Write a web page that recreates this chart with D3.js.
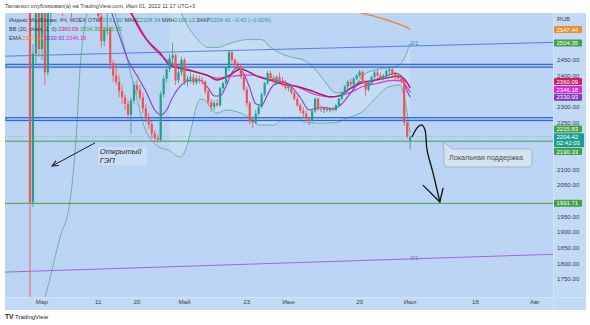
<!DOCTYPE html>
<html><head><meta charset="utf-8">
<script src="https://cdn.jsdelivr.net/npm/d3@7"></script>
<style>
body{margin:0;background:#fff;}
svg{display:block;font-family:"Liberation Sans",Arial,sans-serif;}
</style>
</head><body>
<svg id="chart" width="590" height="325"></svg>
<script>
// ---- IMOEX, 4h candles (bar 0 = 24 Feb 2022, last bar = 1 Jul 2022) ----
const opens  = [2900,1995,2470,2620,2485,2650,2410,2630,2680,2700,2720,2700,2640,2690,2680,2620,2670,2710,2740,2720,2700,2680,2660,2640,2590,2510,2545,2550,2440,2400,2380,2350,2330,2310,2275,2320,2370,2355,2330,2295,2265,2245,2215,2200,2195,2340,2390,2420,2455,2465,2385,2410,2450,2380,2390,2395,2378,2390,2385,2380,2350,2316,2300,2312,2305,2360,2376,2424,2475,2450,2434,2430,2396,2356,2312,2255,2250,2278,2300,2340,2376,2408,2392,2380,2395,2385,2372,2360,2366,2345,2325,2305,2288,2278,2262,2255,2286,2326,2292,2290,2296,2289,2294,2290,2305,2326,2346,2365,2380,2372,2390,2400,2412,2380,2355,2375,2395,2410,2400,2390,2400,2415,2420,2405,2395,2390,2382,2250,2191.90];
const highs  = [2950,2500,2660,2640,2680,2660,2660,2700,2720,2740,2760,2720,2700,2730,2700,2680,2720,2760,2770,2740,2720,2700,2680,2660,2600,2555,2600,2555,2450,2440,2400,2370,2340,2320,2330,2380,2385,2370,2345,2310,2280,2255,2225,2210,2350,2400,2430,2470,2505,2470,2420,2460,2455,2400,2410,2405,2400,2400,2395,2385,2355,2325,2320,2325,2365,2380,2428,2482,2478,2455,2445,2438,2405,2365,2318,2270,2290,2310,2345,2380,2415,2415,2400,2400,2410,2395,2385,2375,2370,2350,2335,2312,2298,2288,2268,2290,2330,2330,2305,2300,2302,2300,2300,2310,2330,2350,2370,2386,2390,2395,2405,2418,2415,2385,2380,2400,2415,2420,2410,2405,2420,2425,2428,2412,2405,2398,2386,2255,2208.34];
const lows   = [1690,1980,2440,2460,2450,2370,2400,2560,2640,2660,2690,2590,2620,2660,2585,2610,2650,2690,2700,2680,2660,2640,2620,2570,2490,2495,2530,2420,2380,2370,2330,2310,2290,2260,2216,2310,2340,2320,2280,2250,2230,2200,2190,2185,2190,2330,2380,2410,2430,2370,2375,2400,2370,2365,2375,2370,2370,2375,2370,2340,2305,2284,2290,2300,2300,2350,2370,2415,2440,2425,2420,2390,2350,2300,2245,2233,2245,2272,2295,2335,2370,2385,2375,2370,2380,2365,2355,2350,2340,2320,2300,2280,2268,2255,2242,2250,2280,2288,2284,2280,2284,2282,2285,2285,2300,2320,2340,2355,2365,2368,2385,2395,2375,2333,2350,2370,2390,2395,2385,2385,2395,2405,2400,2385,2380,2375,2240,2200,2165.13];
const closes = [1995,2470,2620,2485,2650,2410,2630,2680,2700,2720,2700,2640,2690,2680,2620,2670,2710,2740,2720,2700,2680,2660,2640,2590,2510,2545,2550,2440,2400,2380,2350,2330,2310,2275,2320,2370,2355,2330,2295,2265,2245,2215,2200,2195,2340,2390,2420,2455,2465,2385,2410,2450,2380,2390,2395,2378,2390,2385,2380,2350,2316,2300,2312,2305,2360,2376,2424,2475,2450,2434,2430,2396,2356,2312,2255,2250,2278,2300,2340,2376,2408,2392,2380,2395,2385,2372,2360,2366,2345,2325,2305,2288,2278,2262,2255,2286,2326,2292,2290,2296,2289,2294,2290,2305,2326,2346,2365,2380,2372,2390,2400,2412,2380,2355,2375,2395,2410,2400,2390,2400,2415,2420,2405,2395,2390,2382,2250,2204.85,2204.42];

// ---- indicators, as [bar, price] ----
const emaFast = [[20,2720],[26,2640],[30,2530],[33,2450],[36,2400],[39,2350],[42,2290],[44,2275],[46,2290],[48,2330],[51,2370],[54,2385],[57,2385],[60,2360],[62,2335],[64,2335],[66,2365],[68,2410],[70,2425],[72,2405],[74,2360],[76,2310],[78,2305],[80,2340],[82,2370],[85,2380],[88,2365],[91,2330],[94,2290],[96,2295],[99,2298],[102,2293],[105,2310],[108,2345],[111,2380],[114,2375],[117,2390],[120,2398],[123,2408],[125,2400],[126,2375],[127,2350],[128,2330.93]];
const emaSlow = [[28,2700],[32,2650],[36,2560],[40.4,2500],[46,2450],[51.5,2424],[57,2410],[63,2392],[68,2398],[74,2402],[80,2390],[85,2380],[91,2360],[96.6,2338],[102,2332],[107.7,2345],[112,2365],[117,2375],[122,2385],[125,2383],[126,2375],[128,2346.18]];
const ema200  = [[106,2630],[111,2602],[116,2590],[120,2578],[124,2565],[126,2558],[128,2547.44]];
const bbBasis = [[28,2680],[34,2600],[39.4,2514],[43.8,2472],[47,2434],[53,2418],[57,2408],[60,2400],[63,2386],[67,2400],[71,2421],[74,2410],[77,2396],[81,2385],[85,2373],[90,2365],[94,2354],[98,2340],[101,2332],[104,2335],[108,2360],[112,2378],[116,2385],[120,2392],[124,2398],[126,2390],[128,2360.09]];
const bbUpper = [[47,2700],[50,2620],[53,2560],[56,2520],[60,2490],[63,2490],[68,2505],[73,2515],[78,2515],[81,2490],[87.5,2460],[92,2450],[95,2430],[98.6,2390],[103,2345],[108,2345],[112,2400],[117,2420],[123.6,2430],[125,2440],[126,2455],[128,2504.35]];
const bbLower = [[2,1600],[5,1690],[10,1880],[13.5,2000],[15.5,2200],[17,2440],[19,2590],[21,2680],[25,2700],[28.6,2600],[32,2480],[35.4,2350],[38.7,2230],[40.4,2200],[42.8,2175],[47,2160],[50.5,2140],[53,2180],[54.5,2240],[56,2300],[57.5,2325],[59,2320],[61,2295],[63,2280],[66,2290],[71,2280],[75,2258],[77,2242],[82,2242],[86,2265],[90,2265],[93,2250],[97,2248],[103,2250],[107,2265],[112,2285],[117,2335],[121,2365],[124.6,2370],[126,2330],[128,2215.83]];

// ---- drawings ----
const levels    = [2190.33, 1991.71];
const zones     = [[2427, 2436], [2256.5, 2265.5]];
const fibTop    = [[-8.42, 2462], [176.1, 2506]];
const fibBottom = [[-8.42, 1772], [176.1, 1829]];

// ---- axes ----
const priceTicks = [1750,1800,1850,1900,1950,2000,2050,2100,2150,2200,2250,2300,2350,2400,2450,2500,2550];
const timeTickBars = [4, 23, 36, 52, 73, 87, 111, 128, 150, 170];
const timeTickLabels = ["Мар","11","20","Май","23","Июн","20","Июл","18","Авг"];

// ---- price tags on the right scale ----
const tags = [
  {v: 2547.44, c: "#f28c28"},
  {v: 2504.35, c: "#43a047"},
  {v: 2360.09, c: "#d81b60"},
  {v: 2346.18, c: "#e026d6"},
  {v: 2330.93, c: "#7e3bbd"},
  {v: 2215.83, c: "#43a047"},
  {v: 2204.42, c: "#1f9e8e", last: true, sub: "02:42:03"},
  {v: 2190.33, c: "#43a047"},
  {v: 1991.71, c: "#43a047"}
];

const P = {l: 5, r: 553, t: 13, b: 297, axR: 586, axB: 310};
const x = d3.scaleLinear().domain([-8.42, 176.1]).range([P.l, P.r]);
const y = d3.scaleLinear().domain([1692.5, 2600]).range([P.b, P.t]);

const svg = d3.select("#chart");
const defs = svg.append("defs");
defs.append("clipPath").attr("id", "plotClip")
  .append("rect").attr("x", P.l).attr("y", P.t).attr("width", P.r - P.l).attr("height", P.b - P.t);
defs.append("marker").attr("id", "gapHead").attr("viewBox", "0 0 10 10").attr("refX", 9).attr("refY", 5)
  .attr("markerWidth", 7).attr("markerHeight", 7).attr("orient", "auto")
  .append("path").attr("d", "M0,1 L9,5 L0,9").attr("fill", "none").attr("stroke", "#1a1a1a").attr("stroke-width", 1.4);

// backgrounds
svg.append("rect").attr("x", P.l).attr("y", P.t).attr("width", P.axR - P.l).attr("height", P.axB - P.t).attr("fill", "#c3daf7");
svg.append("rect").attr("x", P.l).attr("y", P.t).attr("width", P.r - P.l).attr("height", P.b - P.t).attr("fill", "#bcd4f3");
svg.append("line").attr("x1", P.r + 0.5).attr("x2", P.r + 0.5).attr("y1", P.t).attr("y2", P.axB).attr("stroke", "#d4e4f8");
svg.append("line").attr("x1", P.l).attr("x2", P.axR).attr("y1", P.b + 0.5).attr("y2", P.b + 0.5).attr("stroke", "#d4e4f8");

const g = svg.append("g").attr("clip-path", "url(#plotClip)");
const line = d3.line().x(d => x(d[0])).y(d => y(d[1]));
const smooth = d3.line().x(d => x(d[0])).y(d => y(d[1])).curve(d3.curveMonotoneX);

// Bollinger fill and bands
const bbArea = d3.area().x(d => x(d[0])).y0(d => y(d[2])).y1(d => y(d[1])).curve(d3.curveMonotoneX);
const upperAt = d3.scaleLinear().domain(bbUpper.map(d => d[0])).range(bbUpper.map(d => d[1]));
g.append("path").datum(bbLower.filter(d => d[0] >= 47).map(d => [d[0], upperAt(d[0]), d[1]]))
  .attr("d", bbArea).attr("fill", "#d8ecf6").attr("opacity", 0.35);
[bbUpper, bbLower].forEach(s => g.append("path").datum(s).attr("d", smooth)
  .attr("fill", "none").attr("stroke", "#55a88a").attr("stroke-width", 0.8));

// horizontal zones
zones.forEach(z => {
  g.append("rect").attr("x", P.l + 1).attr("y", y(z[1])).attr("width", P.r - P.l + 10).attr("height", y(z[0]) - y(z[1]))
    .attr("fill", "rgba(41,98,255,0.12)").attr("stroke", "#2f63d6").attr("stroke-width", 1.2);
});

// fib channel lines
g.append("path").datum(fibTop).attr("d", line).attr("stroke", "#4a78dc").attr("stroke-width", 0.9).attr("fill", "none");
g.append("path").datum(fibBottom).attr("d", line).attr("stroke", "#a05ad0").attr("stroke-width", 0.9).attr("fill", "none");
g.append("text").attr("x", x(128)).attr("y", y(2503) + 2).attr("font-size", 6).attr("fill", "#3f6fd8").text("2/1");
g.append("text").attr("x", x(128)).attr("y", y(1818) + 2).attr("font-size", 6).attr("fill", "#9a55cc").text("3/1");

// support levels
levels.forEach(v => g.append("line").attr("x1", P.l).attr("x2", P.r).attr("y1", y(v)).attr("y2", y(v))
  .attr("stroke", "#43a047").attr("stroke-width", 1));

// last price dotted line
g.append("line").attr("x1", P.l).attr("x2", P.r).attr("y1", y(closes[closes.length - 1])).attr("y2", y(closes[closes.length - 1]))
  .attr("stroke", "#1f9e8e").attr("stroke-width", 0.6).attr("stroke-dasharray", "1,2").attr("opacity", 0.7);

// moving averages
g.append("path").datum(ema200).attr("d", smooth).attr("fill", "none").attr("stroke", "#e0883a").attr("stroke-width", 1.4);
g.append("path").datum(emaSlow).attr("d", smooth).attr("fill", "none").attr("stroke", "#d63adf").attr("stroke-width", 1.2);
g.append("path").datum(bbBasis).attr("d", smooth).attr("fill", "none").attr("stroke", "#b0184f").attr("stroke-width", 1.4);
g.append("path").datum(emaFast).attr("d", smooth).attr("fill", "none").attr("stroke", "#8a3fc4").attr("stroke-width", 1.1);

// candles
const up = "#22a08c", down = "#ef5350";
const bars = d3.range(closes.length);
const cg = g.append("g");
bars.forEach(i => {
  const col = closes[i] >= opens[i] ? up : down;
  const cx = x(i);
  cg.append("rect").attr("x", cx - 0.4).attr("width", 0.8)
    .attr("y", y(highs[i])).attr("height", Math.max(0.5, y(lows[i]) - y(highs[i]))).attr("fill", col);
  const top = y(Math.max(opens[i], closes[i])), bot = y(Math.min(opens[i], closes[i]));
  cg.append("rect").attr("x", cx - 1.1).attr("width", 2.2)
    .attr("y", top).attr("height", Math.max(0.8, bot - top)).attr("fill", col);
});

// note: open gap
const gapBox = {b0: 22.9, b1: 39.4, p0: 2172, p1: 2114};
g.append("rect").attr("x", x(gapBox.b0)).attr("y", y(gapBox.p0)).attr("width", x(gapBox.b1) - x(gapBox.b0))
  .attr("height", y(gapBox.p1) - y(gapBox.p0)).attr("fill", "#cfe0f5").attr("opacity", 0.8);
g.append("text").attr("x", x(23.5)).attr("y", y(2150)).attr("font-size", 7.6).attr("font-style", "italic").attr("fill", "#1e1e1e").text("Открытый");
g.append("text").attr("x", x(23.5)).attr("y", y(2121)).attr("font-size", 7.6).attr("font-style", "italic").attr("fill", "#1e1e1e").text("ГЭП");
g.append("line").attr("x1", x(21.9)).attr("y1", y(2185)).attr("x2", x(7.4)).attr("y2", y(2111))
  .attr("stroke", "#1a1a1a").attr("stroke-width", 1).attr("marker-end", "url(#gapHead)");

// note: local support callout
const sb = {b0: 139.4, b1: 169, p0: 2165.5, p1: 2108};
const bx0 = x(sb.b0), bx1 = x(sb.b1), by0 = y(sb.p0), by1 = y(sb.p1), tipX = x(139.1), tipY = y(2188);
const r = 3;
const callout = `M${bx0},${by0 + r} L${tipX},${tipY} L${bx0 + 8},${by0} L${bx1 - r},${by0} Q${bx1},${by0} ${bx1},${by0 + r} L${bx1},${by1 - r} Q${bx1},${by1} ${bx1 - r},${by1} L${bx0 + r},${by1} Q${bx0},${by1} ${bx0},${by1 - r} Z`;
g.append("path").attr("d", callout).attr("fill", "#d5e2ef").attr("stroke", "#8fa3b5").attr("stroke-width", 0.7);
g.append("text").attr("x", x(141.1)).attr("y", y(2130)).attr("font-size", 7.2).attr("fill", "#4a4f55").text("Локальная поддержка");

// hand-drawn forecast arrow
const sketch = [[128.6,2204],[130.6,2236],[132,2242],[133,2226],[133.7,2162],[135.7,2089],[138,1996]];
g.append("path").datum(sketch).attr("d", d3.line().x(d => x(d[0])).y(d => y(d[1])).curve(d3.curveCatmullRom))
  .attr("fill", "none").attr("stroke", "#111").attr("stroke-width", 1.3);
g.append("path").datum([[132.3,2050],[138,1996],[139.1,2041]]).attr("d", line)
  .attr("fill", "none").attr("stroke", "#111").attr("stroke-width", 1.3);

// tags, spread so they do not overlap; the last-price tag stays at its level
const tagH = 7, gap = 0.8;
tags.forEach(t => { t.h = t.sub ? 14 : tagH; t.cy = y(t.v) + (t.sub ? 3.5 : 0); });
tags.sort((a, b) => a.cy - b.cy);
const ai = tags.findIndex(t => t.last);
for (let i = ai + 1; i < tags.length; i++) {
  const prevBot = tags[i - 1].cy + tags[i - 1].h / 2;
  tags[i].cy = Math.max(tags[i].cy, prevBot + gap + tags[i].h / 2);
}
for (let i = tags.length - 2; i >= 0; i--) {
  if (i === ai) continue;
  const nextTop = tags[i + 1].cy - tags[i + 1].h / 2;
  tags[i].cy = Math.min(tags[i].cy, nextTop - gap - tags[i].h / 2);
}

// price scale: a tick label is left out where a tag covers it
const ax = svg.append("g").attr("font-size", 6.2).attr("fill", "#3a3f45");
priceTicks.forEach(v => {
  const ty = y(v);
  const covered = tags.some(t => ty + 2.2 > t.cy - t.h / 2 && ty - 2.2 < t.cy + t.h / 2);
  if (!covered) ax.append("text").attr("x", P.r + 4).attr("y", ty + 2.2).text(v.toFixed(2));
});
ax.append("text").attr("x", P.r + 4).attr("y", 21).text("RUB");

tags.forEach(t => {
  const w = t.sub ? 30 : 28;
  svg.append("rect").attr("x", P.r + 1).attr("y", t.cy - t.h / 2).attr("width", w).attr("height", t.h).attr("rx", 1).attr("fill", t.c);
  const tx = svg.append("text").attr("x", P.r + 3.5).attr("font-size", 6).attr("fill", "#fff");
  if (t.sub) {
    tx.attr("y", t.cy - 1.2).text(t.v.toFixed(2));
    svg.append("text").attr("x", P.r + 3.5).attr("y", t.cy + 5.2).attr("font-size", 6).attr("fill", "#fff").text(t.sub);
  } else {
    tx.attr("y", t.cy + 2.1).text(t.v.toFixed(2));
  }
});

// time scale
const tx = svg.append("g").attr("font-size", 6.2).attr("fill", "#3a3f45").attr("text-anchor", "middle");
timeTickBars.forEach((b, k) => tx.append("text").attr("x", x(b)).attr("y", 304).text(timeTickLabels[k]));

// header, legend and footer
svg.append("text").attr("x", 5).attr("y", 8).attr("font-size", 5.6).attr("fill", "#3c3c3c")
  .text("Tamanion опубликовал(а) на TradingView.com, Июл 01, 2022 11:17 UTC+3");

const lg = svg.append("g").attr("font-size", 5.6);
function legendRow(yy, parts) {
  const t = lg.append("text").attr("x", 9).attr("y", yy);
  parts.forEach(p => t.append("tspan").attr("fill", p[1]).text(p[0]));
}
const gr = "#3a3f45", tl = "#1f9e8e";
legendRow(22, [["Индекс МосБиржи, 4Ч, MOEX  ", gr], ["ОТКР", gr], ["2191.90", tl], ["  МАКС", gr], ["2208.34", tl], ["  МИН", gr], ["2165.13", tl], ["  ЗАКР", gr], ["2204.42", tl], ["  −0.43 (−0.02%)", tl]]);
legendRow(31, [["BB (20, close, 2, 0)  ", gr], ["2360.09", "#d81b60"], ["  2504.35", "#43a047"], ["  2215.83", "#43a047"]]);
legendRow(40, [["EMA  ", gr], ["2547.44", "#f28c28"], ["  2330.93", "#7e3bbd"], ["  2346.18", "#e026d6"]]);

const ft = svg.append("g");
ft.append("text").attr("x", 5).attr("y", 319).attr("font-size", 6.5).attr("font-weight", "bold").attr("fill", "#131722").text("TV");
ft.append("text").attr("x", 15).attr("y", 319).attr("font-size", 6).attr("fill", "#131722").text("TradingView");
</script>
</body></html>
